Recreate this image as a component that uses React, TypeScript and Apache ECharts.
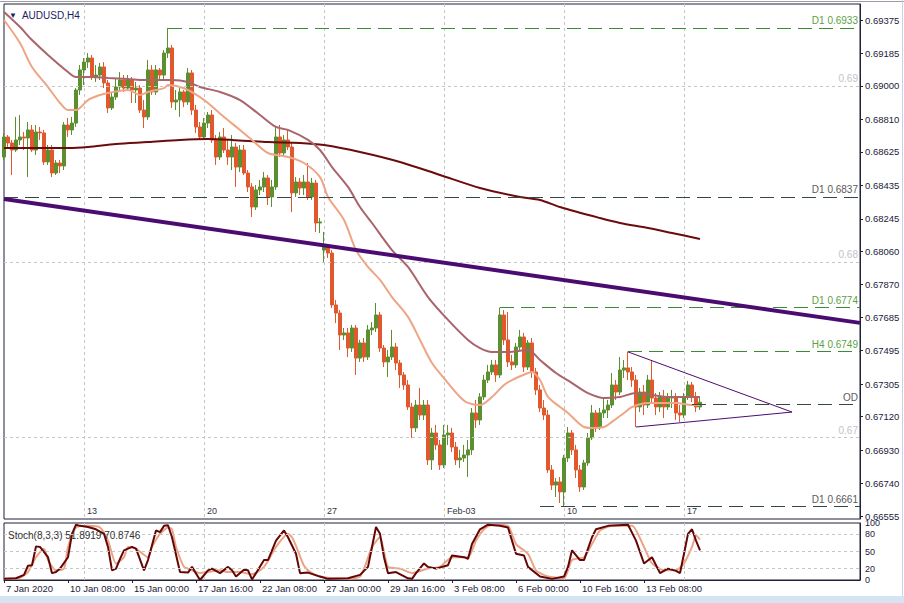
import React, { useEffect, useRef } from "react";
import * as echarts from "echarts";

const SYMBOL = "AUDUSD,H4";
const STOCH_TITLE = "Stoch(8,3,3) 51.8919 70.8746";
const FIRST_BAR_UTC = Date.UTC(2020, 0, 7, 16, 0);
const SLOTS = 215;
const MONTHS = ["Jan", "Feb", "Mar", "Apr", "May", "Jun", "Jul", "Aug", "Sep", "Oct", "Nov", "Dec"];

const PRICE_MIN = 0.66538;
const PRICE_MAX = 0.69466;

const opens = [
  0.68596, 0.6871, 0.68676, 0.68636, 0.68693, 0.6871, 0.68704, 0.6875, 0.68636, 0.68738,
  0.68733, 0.68568, 0.68636, 0.68505, 0.68562, 0.68545, 0.68778, 0.6875, 0.68789, 0.68977,
  0.69091, 0.69136, 0.69159, 0.69051, 0.69062, 0.69108, 0.69017, 0.68875, 0.68937, 0.68994,
  0.69034, 0.68988, 0.69034, 0.68977, 0.68988, 0.68863, 0.68824, 0.69091, 0.68966, 0.69091,
  0.69062, 0.69187, 0.69216, 0.68909, 0.6892, 0.68966, 0.68909, 0.69074, 0.68863, 0.68767,
  0.6871, 0.68789, 0.68835, 0.68693, 0.68596, 0.6871, 0.68636, 0.68596, 0.68653, 0.68539,
  0.68636, 0.68505, 0.68426, 0.68312, 0.68409, 0.68426, 0.68477, 0.68369, 0.68426, 0.6871,
  0.68619, 0.68693, 0.68653, 0.68392, 0.68454, 0.6842, 0.68454, 0.68369, 0.68448, 0.68221,
  0.68067, 0.6809, 0.6805, 0.67755, 0.67709, 0.67584, 0.67596, 0.6751, 0.67624, 0.67453,
  0.67539, 0.67459, 0.67613, 0.67624, 0.67698, 0.6751, 0.67431, 0.67459, 0.67516, 0.67425,
  0.67357, 0.673, 0.67175, 0.67056, 0.67186, 0.67129, 0.67186, 0.66874, 0.67027, 0.66959,
  0.66845, 0.67016, 0.67027, 0.66947, 0.66874, 0.66885, 0.66902, 0.66931, 0.67141, 0.67101,
  0.67232, 0.67328, 0.67374, 0.67414, 0.67357, 0.67698, 0.67556, 0.67431, 0.67414, 0.67516,
  0.67573, 0.67402, 0.67539, 0.67374, 0.67272, 0.67169, 0.67129, 0.66817, 0.66731, 0.66749,
  0.66692, 0.66885, 0.67027, 0.66931, 0.66817, 0.6672, 0.66857, 0.66999, 0.67141, 0.67061,
  0.67141, 0.67158, 0.67186, 0.673, 0.6726, 0.67385, 0.67397, 0.67374, 0.67328, 0.67175,
  0.6726, 0.67186, 0.67328, 0.67226, 0.67175, 0.67232, 0.67175, 0.67226, 0.67232, 0.67141,
  0.67129, 0.67232, 0.673, 0.67232, 0.67175,
];

const closes = [
  0.6871, 0.68676, 0.68636, 0.68693, 0.6871, 0.68704, 0.6875, 0.68636, 0.68738, 0.68733,
  0.68568, 0.68636, 0.68505, 0.68562, 0.68545, 0.68778, 0.6875, 0.68789, 0.68977, 0.69091,
  0.69136, 0.69159, 0.69051, 0.69062, 0.69108, 0.69017, 0.68875, 0.68937, 0.68994, 0.69034,
  0.68988, 0.69034, 0.68977, 0.68988, 0.68863, 0.68824, 0.69091, 0.68966, 0.69091, 0.69062,
  0.69187, 0.69216, 0.68909, 0.6892, 0.68966, 0.68909, 0.69074, 0.68863, 0.68767, 0.6871,
  0.68789, 0.68835, 0.68693, 0.68596, 0.6871, 0.68636, 0.68596, 0.68653, 0.68539, 0.68636,
  0.68505, 0.68426, 0.68312, 0.68409, 0.68426, 0.68477, 0.68369, 0.68426, 0.6871, 0.68619,
  0.68693, 0.68653, 0.68392, 0.68454, 0.6842, 0.68454, 0.68369, 0.68448, 0.68221, 0.68227,
  0.6809, 0.6805, 0.67755, 0.67709, 0.67584, 0.67596, 0.6751, 0.67624, 0.67453, 0.67539,
  0.67459, 0.67613, 0.67624, 0.67698, 0.6751, 0.67431, 0.67459, 0.67516, 0.67425, 0.67357,
  0.673, 0.67175, 0.67056, 0.67186, 0.67129, 0.67186, 0.66874, 0.67027, 0.66959, 0.66845,
  0.67016, 0.67027, 0.66947, 0.66874, 0.66885, 0.66902, 0.66931, 0.67141, 0.67101, 0.67232,
  0.67328, 0.67374, 0.67414, 0.67357, 0.67698, 0.67556, 0.67431, 0.67414, 0.67516, 0.67573,
  0.67402, 0.67539, 0.67374, 0.67272, 0.67169, 0.67129, 0.66817, 0.66731, 0.66749, 0.66692,
  0.66885, 0.67027, 0.66931, 0.66817, 0.6672, 0.66857, 0.66999, 0.67141, 0.67061, 0.67141,
  0.67158, 0.67186, 0.673, 0.6726, 0.67385, 0.67397, 0.67374, 0.67328, 0.67175, 0.6726,
  0.67186, 0.67328, 0.67226, 0.67175, 0.67232, 0.67175, 0.67226, 0.67232, 0.67141, 0.67129,
  0.67232, 0.673, 0.67232, 0.67175, 0.67202,
];

const highs = [
  0.68733, 0.68721, 0.68693, 0.68824, 0.68835, 0.68738, 0.68795, 0.68778, 0.68778, 0.68767,
  0.6875, 0.68664, 0.68664, 0.68579, 0.68579, 0.68795, 0.68818, 0.68824, 0.68988, 0.69119,
  0.69159, 0.69187, 0.69176, 0.69119, 0.69131, 0.69136, 0.69034, 0.68966, 0.69045, 0.69079,
  0.69062, 0.69062, 0.69051, 0.69023, 0.69005, 0.6892, 0.69148, 0.69119, 0.69119, 0.69102,
  0.69204, 0.6933, 0.69233, 0.68977, 0.68988, 0.68977, 0.69102, 0.69091, 0.68892, 0.68795,
  0.68818, 0.68852, 0.68863, 0.68721, 0.68738, 0.68761, 0.68693, 0.68721, 0.68676, 0.68664,
  0.68664, 0.68522, 0.68448, 0.68437, 0.68466, 0.68511, 0.68494, 0.68466, 0.68767, 0.68778,
  0.68721, 0.6875, 0.68676, 0.68482, 0.68477, 0.68494, 0.68562, 0.68477, 0.68466, 0.68249,
  0.6817, 0.68096, 0.68067, 0.67783, 0.67726, 0.67624, 0.67624, 0.67641, 0.67641, 0.67556,
  0.67567, 0.67641, 0.67658, 0.67766, 0.67715, 0.67527, 0.67499, 0.67613, 0.67539, 0.67442,
  0.67374, 0.67328, 0.67198, 0.67215, 0.67283, 0.67215, 0.67215, 0.67056, 0.67073, 0.66987,
  0.67073, 0.67073, 0.67056, 0.66976, 0.66931, 0.66959, 0.66987, 0.67169, 0.67215, 0.67254,
  0.67357, 0.67414, 0.67442, 0.67442, 0.6774, 0.67726, 0.67715, 0.67471, 0.67539, 0.67613,
  0.67596, 0.67556, 0.67567, 0.67397, 0.673, 0.67215, 0.67158, 0.66845, 0.66771, 0.66777,
  0.66902, 0.67061, 0.67044, 0.66959, 0.66845, 0.66874, 0.67027, 0.67186, 0.67158, 0.67169,
  0.67226, 0.67215, 0.67368, 0.67328, 0.67459, 0.67442, 0.6749, 0.67402, 0.67357, 0.67283,
  0.673, 0.67357, 0.67442, 0.67254, 0.6726, 0.67272, 0.67254, 0.67272, 0.67254, 0.67186,
  0.67254, 0.67323, 0.67317, 0.6726, 0.67226,
];

const lows = [
  0.68579, 0.68653, 0.68494, 0.68625, 0.68664, 0.68636, 0.68482, 0.68625, 0.68608, 0.68693,
  0.68551, 0.68551, 0.68482, 0.68494, 0.68505, 0.68522, 0.6871, 0.68721, 0.68767, 0.68949,
  0.69005, 0.69102, 0.69034, 0.69023, 0.69034, 0.68988, 0.68846, 0.68863, 0.6892, 0.68966,
  0.68966, 0.68977, 0.68903, 0.68903, 0.68846, 0.68761, 0.68807, 0.68949, 0.68949, 0.69034,
  0.69034, 0.69159, 0.68875, 0.68863, 0.68824, 0.6888, 0.68892, 0.68835, 0.68733, 0.68693,
  0.68693, 0.68761, 0.68676, 0.68551, 0.68579, 0.68619, 0.68551, 0.68522, 0.68426, 0.68511,
  0.68494, 0.68397, 0.68255, 0.68295, 0.6838, 0.68397, 0.68323, 0.68312, 0.68409, 0.68596,
  0.68596, 0.68636, 0.68283, 0.68369, 0.6838, 0.6838, 0.68352, 0.68352, 0.6817, 0.68164,
  0.67999, 0.68022, 0.67738, 0.67652, 0.67499, 0.67556, 0.67459, 0.67488, 0.67357, 0.67431,
  0.67431, 0.67442, 0.67584, 0.67601, 0.67488, 0.67402, 0.67345, 0.67442, 0.67385, 0.67283,
  0.67272, 0.67158, 0.66999, 0.67033, 0.67101, 0.67101, 0.66845, 0.66817, 0.66931, 0.66817,
  0.66828, 0.66959, 0.66919, 0.66845, 0.66828, 0.66862, 0.66777, 0.66902, 0.67056, 0.67073,
  0.67215, 0.67311, 0.67357, 0.67317, 0.6734, 0.67527, 0.67402, 0.67385, 0.67397, 0.67499,
  0.67374, 0.67385, 0.6734, 0.67243, 0.67146, 0.67101, 0.668, 0.66703, 0.66663, 0.66629,
  0.6661, 0.66862, 0.66902, 0.66771, 0.66692, 0.66703, 0.6684, 0.66987, 0.67033, 0.67044,
  0.67112, 0.67112, 0.67169, 0.67215, 0.67243, 0.6734, 0.67328, 0.67289, 0.67061, 0.67146,
  0.67129, 0.67169, 0.67203, 0.67129, 0.67146, 0.67112, 0.67158, 0.67169, 0.67101, 0.6709,
  0.67112, 0.67215, 0.67203, 0.67146, 0.67158,
];

// moving averages: [bar index, value]
const maFast: [number, number][] = [
  [0, 0.69375], [4, 0.69244], [7, 0.69108], [11, 0.68994], [14, 0.68903], [16, 0.68863], [18, 0.68863],
  [21, 0.6892], [24, 0.68949], [26, 0.6896], [31, 0.68977], [34, 0.68949], [36, 0.68966], [40, 0.68988],
  [41, 0.69005], [44, 0.68994], [46, 0.68977], [49, 0.68937], [51, 0.68903], [55, 0.68824], [59, 0.6875],
  [62, 0.68693], [66, 0.68619], [71, 0.68596], [75, 0.68562], [79, 0.68482], [81, 0.68369], [85, 0.68238],
  [88, 0.68067], [91, 0.67971], [94, 0.67897], [97, 0.678], [101, 0.67687], [104, 0.67556], [107, 0.67425],
  [111, 0.67311], [114, 0.67232], [116, 0.67198], [119, 0.67186], [122, 0.67232], [125, 0.673], [127, 0.67328],
  [131, 0.67368], [132, 0.67374], [134, 0.67328], [136, 0.67232], [139, 0.67175], [141, 0.67141], [145, 0.67061],
  [147, 0.67056], [150, 0.67061], [152, 0.6709], [155, 0.67141], [157, 0.67175], [161, 0.67198], [164, 0.67198],
  [168, 0.67198], [172, 0.67186], [174, 0.67186],
];
const maMid: [number, number][] = [
  [0, 0.6942], [4, 0.69335], [7, 0.69261], [11, 0.69176], [16, 0.69079], [18, 0.69051], [22, 0.69051],
  [26, 0.69045], [31, 0.6904], [35, 0.69034], [39, 0.69034], [42, 0.69034], [46, 0.69023], [49, 0.68994],
  [54, 0.68966], [59, 0.6892], [64, 0.68835], [68, 0.68767], [71, 0.6875], [76, 0.68693], [79, 0.68636],
  [82, 0.68539], [86, 0.68426], [89, 0.68312], [92, 0.68221], [97, 0.68067], [101, 0.67971], [106, 0.678],
  [111, 0.6767], [116, 0.67556], [119, 0.6751], [122, 0.67488], [126, 0.67488], [131, 0.67499], [134, 0.67442],
  [138, 0.67368], [142, 0.67311], [146, 0.67254], [150, 0.67226], [154, 0.67232], [158, 0.67254], [162, 0.67243],
  [166, 0.67232], [171, 0.67232], [174, 0.67232],
];
const maSlow: [number, number][] = [
  [0, 0.68647], [7, 0.68647], [16, 0.68647], [21, 0.68653], [28, 0.6867], [36, 0.68681], [44, 0.68693],
  [51, 0.68698], [57, 0.68693], [66, 0.68681], [74, 0.68676], [80, 0.68664], [89, 0.68625], [99, 0.68568],
  [109, 0.68494], [119, 0.6842], [129, 0.68369], [134, 0.68352], [139, 0.68312], [149, 0.68249], [154, 0.68221],
  [161, 0.68193], [167, 0.68164], [174, 0.6813],
];

const stochMain: [number, number][] = [
  [0, 2], [3, 3], [5, 9], [6, 25], [7, 26], [8, 59], [9, 58], [11, 40], [12, 12], [13, 14], [14, 20],
  [16, 40], [17, 81], [18, 97], [19, 95], [21, 93], [23, 89], [25, 81], [26, 58], [27, 17], [28, 20],
  [29, 37], [30, 52], [32, 58], [33, 55], [35, 17], [36, 35], [38, 87], [39, 84], [40, 95], [41, 96],
  [42, 75], [44, 14], [46, 13], [47, 23], [49, 0], [51, 17], [52, 20], [54, 12], [56, 23], [57, 17],
  [58, 6], [60, 18], [61, 17], [62, 1], [63, 12], [65, 35], [66, 35], [68, 69], [70, 87], [71, 75],
  [73, 46], [74, 12], [76, 13], [79, 6], [81, 2], [86, 3], [89, 9], [91, 23], [92, 58], [93, 93],
  [94, 81], [95, 40], [96, 12], [98, 14], [101, 3], [102, 2], [103, 12], [105, 29], [106, 23], [108, 20],
  [111, 26], [112, 43], [115, 40], [116, 37], [117, 63], [119, 89], [121, 97], [124, 95], [126, 92],
  [128, 46], [130, 43], [131, 23], [134, 6], [137, 2], [140, 6], [141, 23], [142, 52], [144, 35], [145, 35],
  [147, 75], [148, 89], [151, 95], [156, 97], [158, 69], [160, 29], [162, 40], [164, 12], [166, 20],
  [168, 16], [169, 12], [170, 46], [171, 81], [172, 89], [173, 69], [174, 51.8919],
];
const stochSignal: [number, number][] = [
  [0, 2], [4, 4], [6, 14], [8, 40], [10, 55], [11, 35], [13, 17], [15, 20], [16, 58], [18, 92], [21, 95],
  [24, 92], [26, 69], [28, 29], [30, 40], [31, 58], [33, 55], [36, 40], [37, 58], [39, 81], [41, 92],
  [42, 89], [43, 58], [45, 23], [46, 20], [49, 12], [51, 14], [54, 17], [56, 14], [59, 14], [62, 10],
  [65, 23], [68, 58], [71, 81], [72, 75], [73, 60], [75, 25], [77, 12], [79, 6], [84, 2], [89, 6],
  [92, 58], [94, 75], [96, 23], [99, 20], [102, 12], [106, 20], [109, 23], [112, 40], [116, 40],
  [118, 69], [120, 89], [122, 97], [126, 95], [128, 63], [131, 46], [133, 17], [136, 6], [140, 3],
  [142, 35], [145, 40], [147, 63], [149, 87], [152, 95], [157, 95], [160, 58], [162, 29], [165, 17],
  [168, 17], [170, 29], [172, 58], [173, 78], [174, 70.8746],
];

const priceTicks = [
  0.66555, 0.6674, 0.6693, 0.6712, 0.67305, 0.67495, 0.67685, 0.6787,
  0.6806, 0.68245, 0.68435, 0.68625, 0.6881, 0.69, 0.69185, 0.69375,
];
const roundLevels = [0.67, 0.68, 0.69];
const stochLevels = [20, 50, 80];
const stochInnerTicks = [20, 50, 80];
const stochEndTicks = [0, 100];

// horizontal levels: label, price, first bar, style
const levelNames = ["D1 0.6933", "D1 0.6837", "D1 0.6774", "H4 0.6749", "OD", "D1 0.6661"];
const levelPrices = [0.6933, 0.6837, 0.6774, 0.6749, 0.6719, 0.6661];
const levelStartBars = [41, 0, 124, 156, 172, 134];
const levelIsGreen = [true, false, true, true, false, false];

// trend lines: [bar, price] pairs
const mainTrend: [number, number][] = [[0, 0.68357], [214, 0.67653]];
const triangleUpper: [number, number][] = [[156, 0.67488], [197, 0.67146]];
const triangleLower: [number, number][] = [[158, 0.67061], [197, 0.67146]];

const H4 = 4 * 3600 * 1000;
const DAY = 24 * 3600 * 1000;

function buildDates(): Date[] {
  const out: Date[] = [];
  let t = FIRST_BAR_UTC;
  for (let k = 0; k < SLOTS; k++) {
    out.push(new Date(t));
    t += H4;
    if (new Date(t).getUTCDay() === 6) t += 2 * DAY;
  }
  return out;
}

const pad2 = (n: number) => (n < 10 ? "0" + n : String(n));

export default function App() {
  const ref = useRef<HTMLDivElement>(null);

  useEffect(() => {
    if (!ref.current) return;
    const chart = echarts.init(ref.current, undefined, { renderer: "svg" });
    const dates = buildDates();
    const categories = dates.map(
      (d) => `${d.getUTCFullYear()}-${pad2(d.getUTCMonth() + 1)}-${pad2(d.getUTCDate())} ${pad2(d.getUTCHours())}:00`
    );
    const lastCat = categories[categories.length - 1];
    const nBars = closes.length;
    const isWeekStart = (i: number) => i < nBars && dates[i].getUTCDay() === 1 && dates[i].getUTCHours() === 0;
    const isTimeLabel = (i: number) => i % 16 === 0 && i < nBars;
    const weekLabel = (i: number) => {
      const d = dates[i];
      const day = d.getUTCDate();
      return day <= 7 ? `${MONTHS[d.getUTCMonth()]}-${pad2(day)}` : String(day);
    };
    const timeLabel = (i: number) => {
      const d = dates[i];
      if (i === 0) return `${d.getUTCDate()} ${MONTHS[d.getUTCMonth()]} ${d.getUTCFullYear()}`;
      return `${d.getUTCDate()} ${MONTHS[d.getUTCMonth()]} ${pad2(d.getUTCHours())}:00`;
    };

    const font = "Liberation Sans";
    const textDark = "#1b1b3a";
    const gridGray = "#c6c6c6";
    const green = "#3a8a36";
    const greenText = "#5c9f45";
    const slate = "#344848";
    const slateText = "#5a5a5a";
    const purple = "#4b0c72";

    const candleData = opens.map((o, i) => [o, closes[i], lows[i], highs[i]]);
    const toPairs = (arr: [number, number][]) => arr.map(([i, v]) => [categories[i], v]);

    const levelLines: any[] = levelNames.map((name, k) => {
      const col = levelIsGreen[k] ? green : slate;
      return [
        {
          coord: [categories[levelStartBars[k]], levelPrices[k]],
          lineStyle: { color: col, width: 1, type: [14, 7] },
          label: {
            show: true,
            position: "insideEndTop",
            formatter: name,
            color: levelIsGreen[k] ? greenText : slateText,
            fontSize: 10,
            fontFamily: font,
            distance: [2, 2],
          },
        },
        { coord: [lastCat, levelPrices[k]] },
      ];
    });

    const roundLines: any[] = roundLevels.map((p) => [
      {
        coord: [categories[0], p],
        lineStyle: { color: gridGray, width: 1, type: [3, 3] },
        label: {
          show: true,
          position: "insideEndTop",
          formatter: String(p),
          color: "#c4c4c4",
          fontSize: 10,
          fontFamily: font,
          distance: [2, 2],
        },
      },
      { coord: [lastCat, p] },
    ]);

    const trendPair = (pts: [number, number][], width: number) => [
      { coord: [categories[pts[0][0]], pts[0][1]], lineStyle: { color: purple, width, type: "solid" }, label: { show: false } },
      { coord: [categories[pts[1][0]], pts[1][1]] },
    ];

    const lastPrice = closes[closes.length - 1];

    const stochLabelBase = { margin: 5, fontSize: 9, fontFamily: font, color: textDark };

    const option: any = {
      animation: false,
      backgroundColor: "#ffffff",
      title: [
        {
          text: "{tri|▼}  " + SYMBOL,
          left: 4,
          top: 5,
          textStyle: {
            fontSize: 10,
            fontFamily: font,
            color: "#1d1d5e",
            fontWeight: "normal",
            rich: { tri: { fontSize: 8, color: "#1d1d5e" } },
          },
        },
        {
          text: STOCH_TITLE,
          left: 3,
          top: 525,
          textStyle: { fontSize: 10, fontFamily: font, color: "#333333", fontWeight: "normal" },
        },
      ],
      grid: [
        { left: 4, top: 4, width: 856, height: 515, show: true, borderColor: "#20203a", borderWidth: 1, backgroundColor: "#ffffff" },
        { left: 4, top: 523, width: 856, height: 57, show: true, borderColor: "#20203a", borderWidth: 1, backgroundColor: "#ffffff" },
      ],
      xAxis: [
        {
          type: "category",
          gridIndex: 0,
          data: categories,
          boundaryGap: false,
          axisLine: { show: false },
          axisTick: { show: false },
          axisLabel: {
            show: true,
            inside: true,
            interval: (i: number) => isWeekStart(i),
            formatter: (_v: string, i: number) => weekLabel(i),
            align: "left",
            padding: [0, 0, 0, 3],
            margin: 4,
            fontSize: 9,
            fontFamily: font,
            color: "#333344",
          },
          splitLine: {
            show: true,
            interval: (i: number) => isWeekStart(i),
            lineStyle: { color: gridGray, width: 1, type: [3, 3] },
          },
        },
        {
          type: "category",
          gridIndex: 1,
          data: categories,
          boundaryGap: false,
          axisLine: { show: true, lineStyle: { color: "#20203a" } },
          axisTick: {
            show: true,
            interval: (i: number) => isTimeLabel(i),
            length: 3,
            lineStyle: { color: "#20203a" },
          },
          axisLabel: {
            show: true,
            interval: (i: number) => isTimeLabel(i),
            formatter: (_v: string, i: number) => timeLabel(i),
            align: "left",
            padding: [0, 0, 0, 2],
            margin: 3,
            fontSize: 9.5,
            fontFamily: font,
            color: textDark,
          },
          splitLine: {
            show: true,
            interval: (i: number) => isWeekStart(i),
            lineStyle: { color: gridGray, width: 1, type: [3, 3] },
          },
        },
      ],
      yAxis: [
        {
          type: "value",
          gridIndex: 0,
          position: "right",
          min: PRICE_MIN,
          max: PRICE_MAX,
          scale: true,
          axisLine: { show: true, lineStyle: { color: "#20203a" } },
          axisTick: { show: true, customValues: priceTicks, length: 3, lineStyle: { color: "#20203a" } },
          axisLabel: {
            show: true,
            customValues: priceTicks,
            formatter: (v: number) => v.toFixed(5),
            margin: 5,
            fontSize: 9.5,
            fontFamily: font,
            color: textDark,
          },
          splitLine: { show: false },
        },
        {
          type: "value",
          gridIndex: 1,
          position: "right",
          min: 0,
          max: 100,
          axisLine: { show: true, lineStyle: { color: "#20203a" } },
          axisTick: { show: false },
          axisLabel: {
            show: true,
            customValues: stochInnerTicks,
            formatter: (v: number) => String(v),
            ...stochLabelBase,
          },
          splitLine: { show: false },
        },
        {
          type: "value",
          gridIndex: 1,
          position: "right",
          min: 0,
          max: 100,
          axisLine: { show: false },
          axisTick: { show: false },
          axisLabel: {
            show: true,
            customValues: stochEndTicks,
            showMinLabel: true,
            showMaxLabel: true,
            formatter: (v: number) => String(v),
            ...stochLabelBase,
          },
          splitLine: { show: false },
        },
      ],
      series: [
        {
          name: "price",
          type: "candlestick",
          xAxisIndex: 0,
          yAxisIndex: 0,
          data: candleData,
          barWidth: 3,
          clip: false,
          itemStyle: {
            color: "#5b8f30",
            color0: "#e2582d",
            borderColor: "#5b8f30",
            borderColor0: "#e2582d",
            borderWidth: 1,
          },
          markLine: {
            silent: true,
            symbol: ["none", "none"],
            animation: false,
            data: [
              ...roundLines,
              ...levelLines,
              trendPair(mainTrend, 4),
              trendPair(triangleUpper, 1),
              trendPair(triangleLower, 1),
              {
                yAxis: lastPrice,
                lineStyle: { opacity: 0 },
                label: {
                  show: true,
                  position: "end",
                  formatter: lastPrice.toFixed(5),
                  color: "#ffffff",
                  backgroundColor: "#10105a",
                  padding: [2, 3, 1, 3],
                  fontSize: 9.5,
                  fontFamily: font,
                  distance: 2,
                },
              },
            ],
          },
        },
        {
          name: "MA slow",
          type: "line",
          xAxisIndex: 0,
          yAxisIndex: 0,
          data: toPairs(maSlow),
          smooth: 0.3,
          showSymbol: false,
          lineStyle: { color: "#6b0b0b", width: 2 },
        },
        {
          name: "MA mid",
          type: "line",
          xAxisIndex: 0,
          yAxisIndex: 0,
          data: toPairs(maMid),
          smooth: 0.3,
          showSymbol: false,
          lineStyle: { color: "#a9646c", width: 2 },
        },
        {
          name: "MA fast",
          type: "line",
          xAxisIndex: 0,
          yAxisIndex: 0,
          data: toPairs(maFast),
          smooth: 0.3,
          showSymbol: false,
          lineStyle: { color: "#eea585", width: 2 },
        },
        {
          name: "Signal",
          type: "line",
          xAxisIndex: 1,
          yAxisIndex: 1,
          data: toPairs(stochSignal),
          smooth: 0.2,
          showSymbol: false,
          lineStyle: { color: "#eba385", width: 2 },
          markLine: {
            silent: true,
            symbol: ["none", "none"],
            label: { show: false },
            lineStyle: { color: gridGray, type: [3, 3], width: 1 },
            data: stochLevels.map((v) => ({ yAxis: v })),
          },
        },
        {
          name: "Main",
          type: "line",
          xAxisIndex: 1,
          yAxisIndex: 1,
          data: toPairs(stochMain),
          showSymbol: false,
          lineStyle: { color: "#650505", width: 2 },
        },
      ],
      graphic: [
        { type: "rect", shape: { x: 0, y: 596, width: 904, height: 7 }, style: { fill: "#d5e3f2" }, silent: true },
        { type: "line", shape: { x1: 0, y1: 1.5, x2: 904, y2: 1.5 }, style: { stroke: "#9a9aa8", lineWidth: 1 }, silent: true },
        { type: "line", shape: { x1: 902.5, y1: 0, x2: 902.5, y2: 596 }, style: { stroke: "#c8d4e2", lineWidth: 1 }, silent: true },
      ],
    };

    chart.setOption(option);
    return () => chart.dispose();
  }, []);

  return (
    <div
      ref={ref}
      style={{ position: "fixed", left: 0, top: 0, width: 904, height: 603, background: "#ffffff" }}
    />
  );
}
